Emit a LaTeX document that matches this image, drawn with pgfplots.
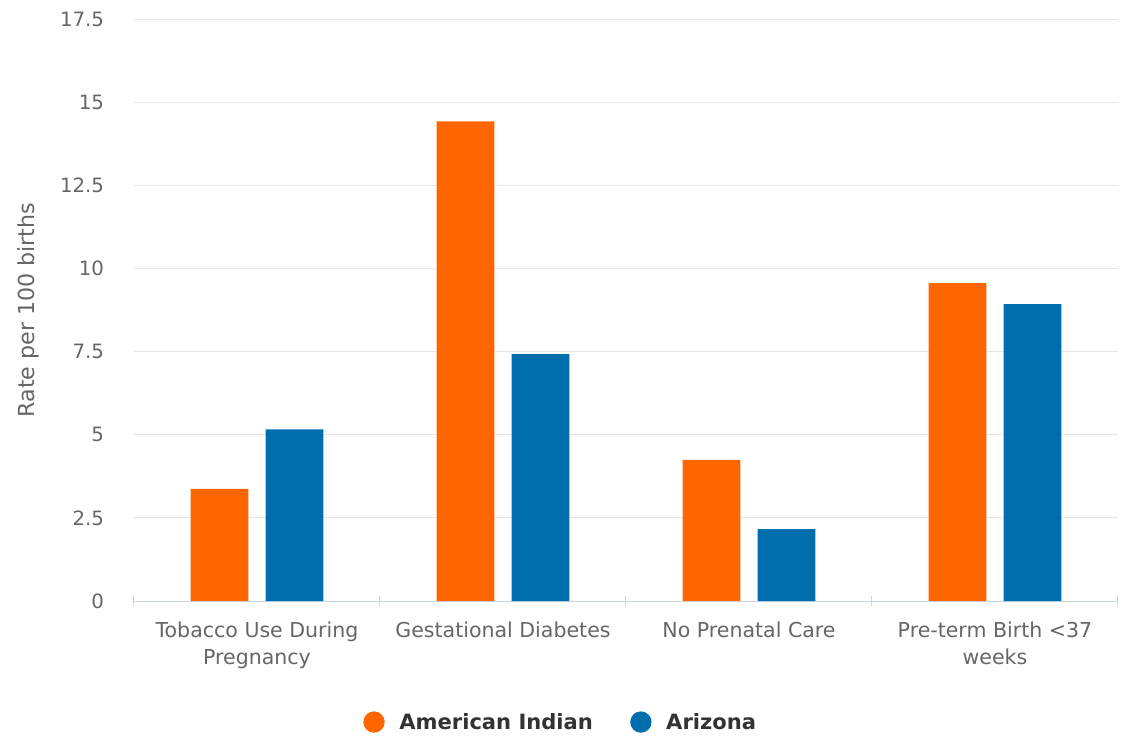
\documentclass[border=0pt]{standalone}
\usepackage{pgfplots}
\pgfplotsset{compat=1.18}
\usepackage{fontspec}
\setmainfont{DejaVu Sans}
\definecolor{aiorange}{HTML}{FF6600}
\definecolor{azblue}{HTML}{006EAD}
\definecolor{gridgray}{HTML}{E6E6E6}
\definecolor{xaxis}{HTML}{CCD6EB}
\definecolor{labelgray}{HTML}{666666}
\definecolor{legtext}{HTML}{333333}
\begin{document}
\begin{tikzpicture}
\begin{axis}[
    ybar=13pt,
    scale only axis,
    width=738pt, height=436.5pt,
    bar width=43.2pt,
    xmin=-0.5, xmax=3.5,
    ymin=0, ymax=17.5,
    xtick={0,1,2,3},
    xticklabels={{Tobacco Use During\\Pregnancy},{Gestational Diabetes},{No Prenatal Care},{Pre-term Birth <37\\weeks}},
    minor xtick={-0.5,0.5,1.5,2.5,3.5},
    ytick={0,2.5,5,7.5,10,12.5,15,17.5},
    yticklabels={0,2.5,5,7.5,10,12.5,15,17.5},
    major tick length=0pt,
    minor tick length=7.5pt,
    tick align=outside,
    minor tick style={draw=xaxis, line width=0.75pt},
    axis x line=bottom, axis y line=left,
    x axis line style={draw=xaxis, line width=0.75pt, -},
    y axis line style={draw=none},
    ymajorgrids,
    major grid style={draw=gridgray, line width=0.75pt},
    xticklabel style={font=\fontsize{15.4}{20.3}\selectfont, text=labelgray, align=center, yshift=-12pt},
    yticklabel style={font=\fontsize{14.8}{18}\selectfont, text=labelgray, xshift=-19pt},
    ylabel={Rate per 100 births},
    ylabel style={at={(axis description cs:-0.1077,0.5)}, anchor=center, font=\fontsize{16.6}{18}\selectfont, text=labelgray},
    legend columns=2,
    legend style={draw=none, at={(axis description cs:0.434,-0.208)}, anchor=center,
        font=\fontsize{15.8}{18}\selectfont\bfseries, text=legtext,
        /tikz/every even column/.append style={column sep=26pt}},
    legend image code/.code={\fill[#1] (0pt,0pt) circle (8pt); \path (17pt,0pt);},
    legend cell align=left,
]
\addplot[fill=aiorange, draw=none] coordinates {(0,3.37) (1,14.42) (2,4.24) (3,9.56)};
\addplot[fill=azblue, draw=none] coordinates {(0,5.16) (1,7.42) (2,2.16) (3,8.93)};
\legend{American Indian, Arizona}
\end{axis}
\useasboundingbox (-100.5pt,-99.75pt) rectangle (741pt,450.75pt);
\end{tikzpicture}
\end{document}
